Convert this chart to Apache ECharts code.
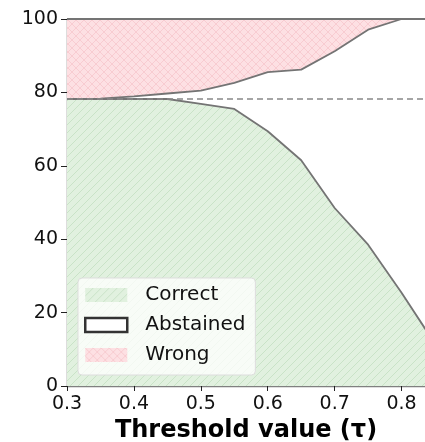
<!DOCTYPE html>
<html>
<head>
<meta charset="utf-8">
<script src="https://cdn.jsdelivr.net/npm/echarts@6/dist/echarts.min.js"></script>
<style>html,body{margin:0;padding:0;background:#fff}#c{width:425px;height:442px}</style>
</head>
<body>
<div id="c"></div>
<script>
const thresholds = [0.3, 0.35, 0.4, 0.45, 0.5, 0.55, 0.6, 0.65, 0.7, 0.75, 0.8, 0.85];
const correct = [78.2, 78.2, 78.2, 78.2, 76.9, 75.5, 69.4, 61.5, 48.5, 38.5, 25.4, 11.5];
const wrong = [21.8, 21.7, 21.1, 20.3, 19.5, 17.4, 14.5, 13.8, 8.8, 2.9, 0, 0];
const baseline = 78.2;
const xTicks = [0.3, 0.4, 0.5, 0.6, 0.7, 0.8];
const yTicks = [0, 20, 40, 60, 80, 100];

function hatch(bg, fg, cross) {
  const s = 8;
  const c = document.createElement('canvas');
  c.width = s; c.height = s;
  const g = c.getContext('2d');
  g.fillStyle = bg; g.fillRect(0, 0, s, s);
  g.strokeStyle = fg; g.lineWidth = 1;
  g.beginPath();
  g.moveTo(0, s); g.lineTo(s, 0);
  g.moveTo(-s / 2, s / 2); g.lineTo(s / 2, -s / 2);
  g.moveTo(s / 2, s * 1.5); g.lineTo(s * 1.5, s / 2);
  if (cross) {
    g.moveTo(0, 0); g.lineTo(s, s);
    g.moveTo(-s / 2, s / 2); g.lineTo(s / 2, s * 1.5);
    g.moveTo(s / 2, -s / 2); g.lineTo(s * 1.5, s / 2);
  }
  g.stroke();
  return { image: c, repeat: 'repeat' };
}
const greenPat = hatch('#e1f1df', '#c9e3c7', false);
const redPat = hatch('#fde0e3', '#f8ccd1', true);

// upper boundary of abstained band = correct + abstained = 100 - wrong
const answeredTop = wrong.map(w => +(100 - w).toFixed(2));
const pairs = a => thresholds.map((t, i) => [t, a[i]]);

const font = 'DejaVu Sans';
const lineCol = '#747474';
const chart = echarts.init(document.getElementById('c'), null, { renderer: 'canvas' });
chart.setOption({
  animation: false,
  textStyle: { fontFamily: font },
  grid: { left: 67, right: 0, top: 19, bottom: 56, containLabel: false, outerBoundsMode: 'none' },
  xAxis: {
    type: 'value', min: 0.3, max: 0.835, interval: 0.1,
    axisLine: { show: true, lineStyle: { color: '#808080', width: 1.3 } },
    axisTick: { show: true, length: 5, lineStyle: { color: '#222' } },
    axisLabel: {
      color: '#111', fontSize: 19, margin: 9, fontFamily: font, showMaxLabel: false,
      formatter: v => xTicks.some(t => Math.abs(t - v) < 1e-6) ? v.toFixed(1) : ''
    },
    splitLine: { show: false },
    name: 'Threshold value (\u03c4)', nameLocation: 'middle', nameGap: 31,
    nameTextStyle: { fontSize: 24, fontWeight: 'bold', color: '#000', fontFamily: font }
  },
  yAxis: {
    type: 'value', min: 0, max: 100, interval: 20,
    axisLine: { show: true, lineStyle: { color: '#222', width: 1.3 } },
    axisTick: { show: true, length: 6, lineStyle: { color: '#222' } },
    axisLabel: {
      color: '#111', fontSize: 19, margin: 9, fontFamily: font,
      formatter: v => yTicks.includes(v) ? String(v) : ''
    },
    splitLine: { show: false }
  },
  legend: {
    left: 78, top: 278, orient: 'vertical',
    itemWidth: 42, itemHeight: 14, itemGap: 10,
    padding: [7, 10, 10, 6],
    backgroundColor: 'rgba(255,255,255,0.75)',
    borderColor: '#dddddd', borderWidth: 1, borderRadius: 4,
    textStyle: { fontSize: 20, color: '#111', fontFamily: font, padding: [0, 0, 0, 13] },
    data: [
      { name: 'Correct', icon: 'rect', itemStyle: { color: greenPat, borderWidth: 0 } },
      { name: 'Abstained', icon: 'rect', itemStyle: { color: '#ffffff', borderColor: '#333', borderWidth: 2.5 } },
      { name: 'Wrong', icon: 'rect', itemStyle: { color: redPat, borderWidth: 0 } }
    ]
  },
  series: [
    {
      name: 'Correct', type: 'line', data: pairs(correct),
      symbol: 'none', lineStyle: { color: lineCol, width: 1.8 },
      itemStyle: { color: lineCol },
      areaStyle: { color: greenPat, opacity: 1, origin: 'start' },
      markLine: {
        silent: true, symbol: 'none', label: { show: false },
        lineStyle: { color: '#888', type: [6, 4], width: 1.5 },
        data: [{ yAxis: baseline }]
      },
      z: 2
    },
    {
      name: 'Abstained', type: 'line', data: [],
      symbol: 'none', lineStyle: { color: lineCol, width: 1.8 },
      itemStyle: { color: lineCol }
    },
    {
      name: 'Wrong', type: 'line', data: pairs(answeredTop),
      symbol: 'none', lineStyle: { color: lineCol, width: 1.8 },
      itemStyle: { color: lineCol },
      areaStyle: { color: redPat, opacity: 1, origin: 'end' },
      markLine: {
        silent: true, symbol: 'none', label: { show: false },
        lineStyle: { color: lineCol, type: 'solid', width: 1.8 },
        data: [{ yAxis: 100 }]
      },
      z: 3
    }
  ]
});
</script>
</body>
</html>
